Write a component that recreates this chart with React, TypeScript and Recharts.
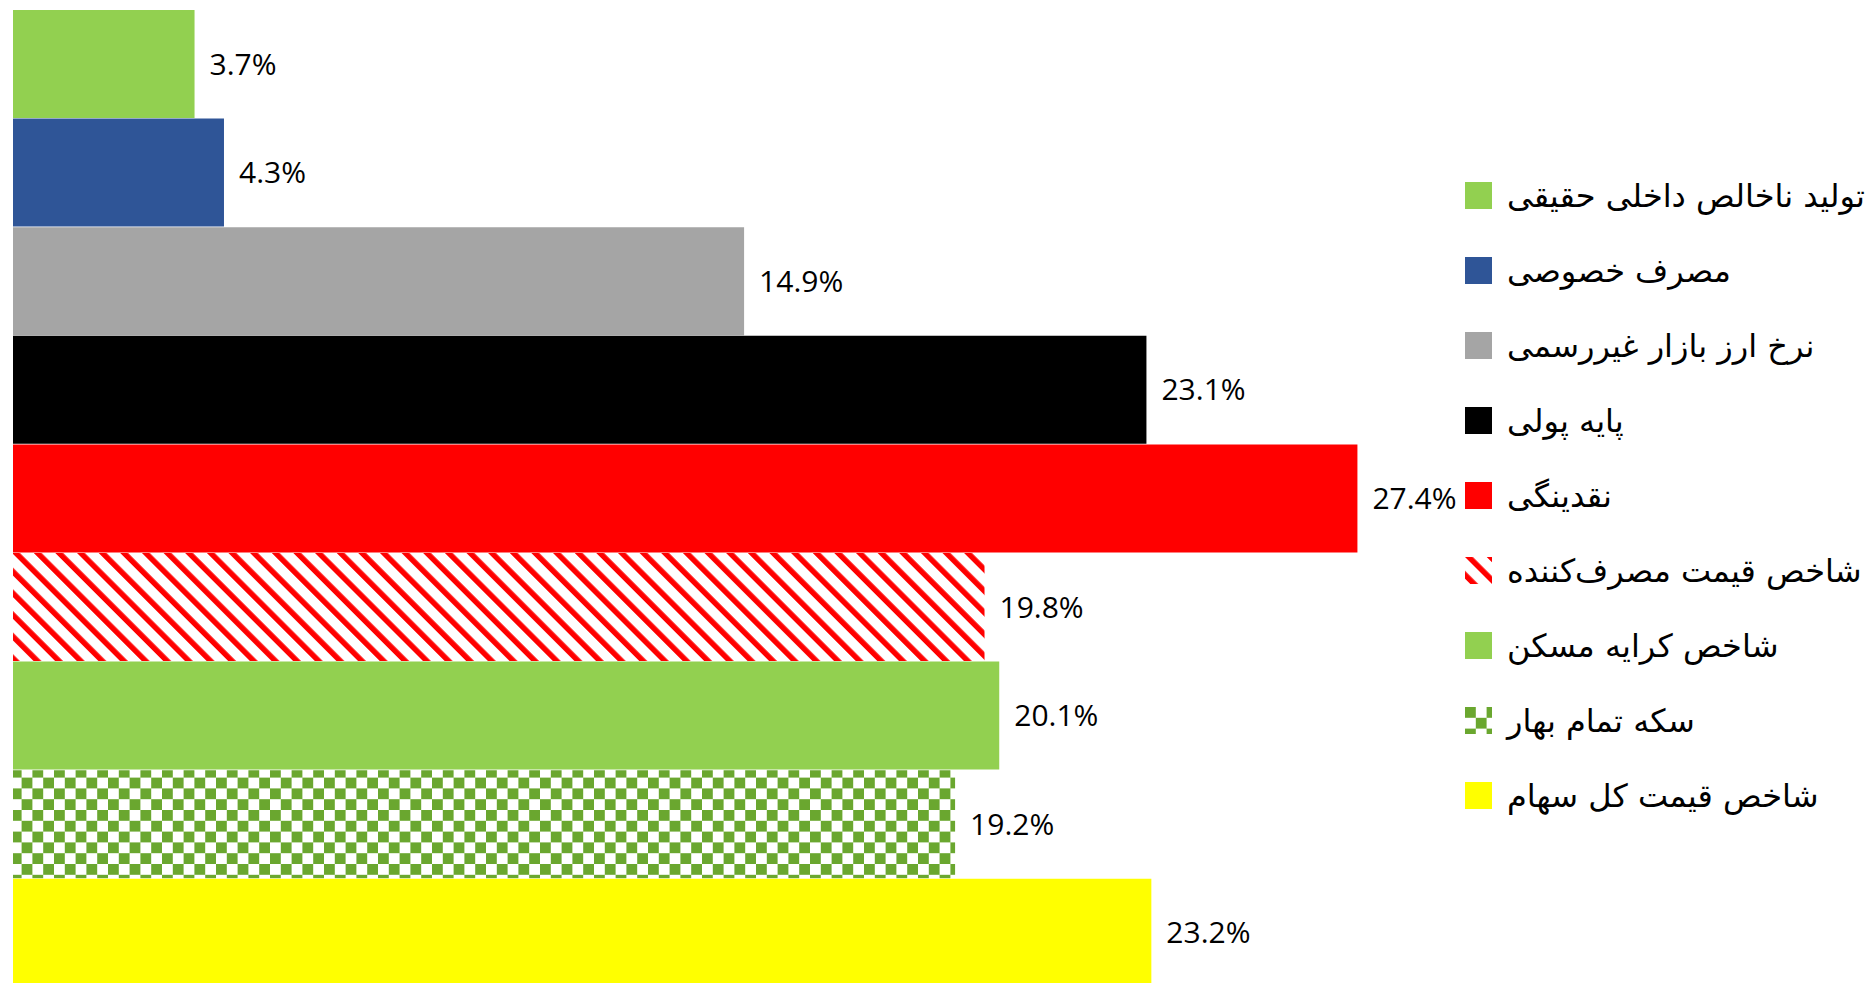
import React from 'react';
import { BarChart, Bar, XAxis, YAxis, Legend, LabelList } from 'recharts';

// series in the order they are drawn (top to bottom)
const seriesKeys = ['gdp', 'consumption', 'fx', 'base', 'liquidity', 'cpi', 'rent', 'coin', 'stocks'];
const seriesNames = [
  'تولید ناخالص داخلی حقیقی',
  'مصرف خصوصی',
  'نرخ ارز بازار غیررسمی',
  'پایه پولی',
  'نقدینگی',
  'شاخص قیمت مصرف‌کننده',
  'شاخص کرایه مسکن',
  'سکه تمام بهار',
  'شاخص قیمت کل سهام',
];
const seriesValues = [3.7, 4.3, 14.9, 23.1, 27.4, 19.8, 20.1, 19.2, 23.2];
const seriesFills = [
  '#92D050',
  '#2F5597',
  '#A5A5A5',
  '#000000',
  '#FF0000',
  'url(#redStripes)',
  '#92D050',
  'url(#greenChecks)',
  '#FFFF00',
];

const row: Record<string, string | number> = { name: 'growth' };
seriesKeys.forEach((k, i) => {
  row[k] = seriesValues[i];
});
const data = [row];

const Patterns = () => (
  <defs>
    <pattern
      id="redStripes"
      patternUnits="userSpaceOnUse"
      width={15.3}
      height={15.3}
      patternTransform="rotate(-45)"
    >
      <rect x={0} y={0} width={15.3} height={15.3} fill="#FFFFFF" />
      <rect x={0} y={0} width={5.5} height={15.3} fill="#FF0000" />
    </pattern>
    <pattern id="greenChecks" patternUnits="userSpaceOnUse" width={21.6} height={21.6}>
      <rect x={0} y={0} width={21.6} height={21.6} fill="#FFFFFF" />
      <rect x={0} y={0} width={10.8} height={10.8} fill="#6AA72F" />
      <rect x={10.8} y={10.8} width={10.8} height={10.8} fill="#6AA72F" />
    </pattern>
  </defs>
);

const renderLegend = (props: any) => {
  // keep the series order instead of the default alphabetical one
  const items = [...(props.payload || [])].sort(
    (a: any, b: any) => seriesNames.indexOf(a.value) - seriesNames.indexOf(b.value)
  );
  return (
    <div>
      {items.map((entry: any, i: number) => (
        <div
          key={`item-${i}`}
          style={{ display: 'flex', alignItems: 'center', height: 75 }}
        >
          <svg width={27} height={27} style={{ flex: 'none' }}>
            <Patterns />
            <rect x={0} y={0} width={27} height={27} fill={entry.color} />
          </svg>
          <span
            style={{
              marginLeft: 15,
              direction: 'rtl',
              fontFamily: '"DejaVu Sans", sans-serif',
              fontSize: 32,
              color: '#000',
              whiteSpace: 'nowrap',
            }}
          >
            {entry.value}
          </span>
        </div>
      ))}
    </div>
  );
};

export default function App() {
  return (
    <div
      style={{
        position: 'absolute',
        left: 0,
        top: 0,
        width: 1875,
        height: 983,
        overflow: 'hidden',
        background: '#fff',
      }}
    >
      <BarChart
        width={1875}
        height={990}
        data={data}
        layout="vertical"
        barCategoryGap={0}
        barGap={0.6}
        margin={{ top: 10, right: 390, bottom: 3, left: 13 }}
      >
        <Patterns />
        <XAxis type="number" domain={[0, 30]} hide />
        <YAxis type="category" dataKey="name" hide />
        <Legend
          layout="vertical"
          align="center"
          verticalAlign="middle"
          content={renderLegend}
          wrapperStyle={{ left: 1465, top: 158, width: 410 }}
        />
        {seriesKeys.map((k, i) => (
          <Bar
            key={k}
            dataKey={k}
            name={seriesNames[i]}
            fill={seriesFills[i]}
            isAnimationActive={false}
          >
            <LabelList
              dataKey={k}
              position="right"
              offset={15}
              fill="#000"
              fontSize={30}
              fontFamily='"Open Sans", sans-serif'
              formatter={(v: any) => `${v}%`}
            />
          </Bar>
        ))}
      </BarChart>
    </div>
  );
}
